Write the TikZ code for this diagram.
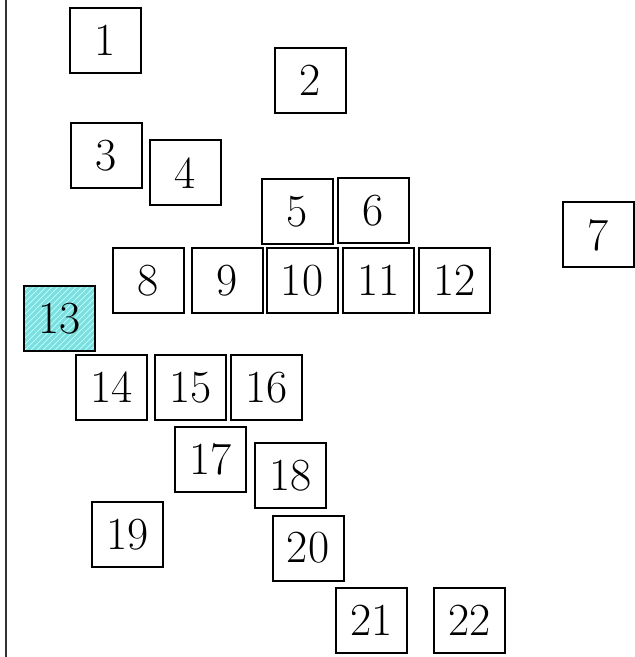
\documentclass[tikz,border=0pt]{standalone}
\usetikzlibrary{patterns}
\begin{document}
\begin{tikzpicture}[x=0.5pt, y=-0.5pt,
    numbox/.style={draw=black, line width=1pt, fill=white, rectangle,
        minimum width=35.5pt, minimum height=32.5pt, inner sep=0pt,
        font=\fontsize{23}{23}\selectfont},
    selbox/.style={draw=black, line width=1pt, rectangle,
        minimum width=35.5pt, minimum height=32.5pt, inner sep=0pt,
        font=\fontsize{23}{23}\selectfont,
        preaction={fill={rgb,255:red,125;green,222;blue,222}},
        pattern=north east lines, pattern color=white!70!cyan}]
    \useasboundingbox (0,0) rectangle (634,657);

    % ===== axis line on the left =====
    \coordinate (axtop) at (6,0);
    \coordinate (axbot) at (6,657);
    \draw[line width=1pt, black!80] (axtop) -- (axbot);

    % ===== upper part =====
    \node[numbox] (b1) at (105,40.5) {1};
    \node[numbox] (b2) at (310.5,80.5) {2};
    \node[numbox] (b3) at (106.5,155.5) {3};
    \node[numbox] (b4) at (185,173) {4};
    \node[numbox] (b5) at (297,211.5) {5};
    \node[numbox] (b6) at (373,211) {6};
    \node[numbox] (b7) at (598,235) {7};

    % ===== middle row =====
    \node[numbox] (b8) at (148,280.5) {8};
    \node[numbox] (b9) at (227,280.5) {9};
    \node[numbox] (b10) at (302,280.5) {10};
    \node[numbox] (b11) at (378.5,280.5) {11};
    \node[numbox] (b12) at (454.5,280.5) {12};
    \node[selbox] (b13) at (59.5,318.5) {13};

    % ===== lower part =====
    \node[numbox] (b14) at (111.5,387.5) {14};
    \node[numbox] (b15) at (190.5,387.5) {15};
    \node[numbox] (b16) at (266.5,387.5) {16};
    \node[numbox] (b17) at (210.5,459.5) {17};
    \node[numbox] (b18) at (290.5,475.5) {18};
    \node[numbox] (b19) at (127.5,534.5) {19};
    \node[numbox] (b20) at (308,548) {20};
    \node[numbox] (b21) at (371.5,620) {21};
    \node[numbox] (b22) at (469.5,620) {22};
\end{tikzpicture}
\end{document}
